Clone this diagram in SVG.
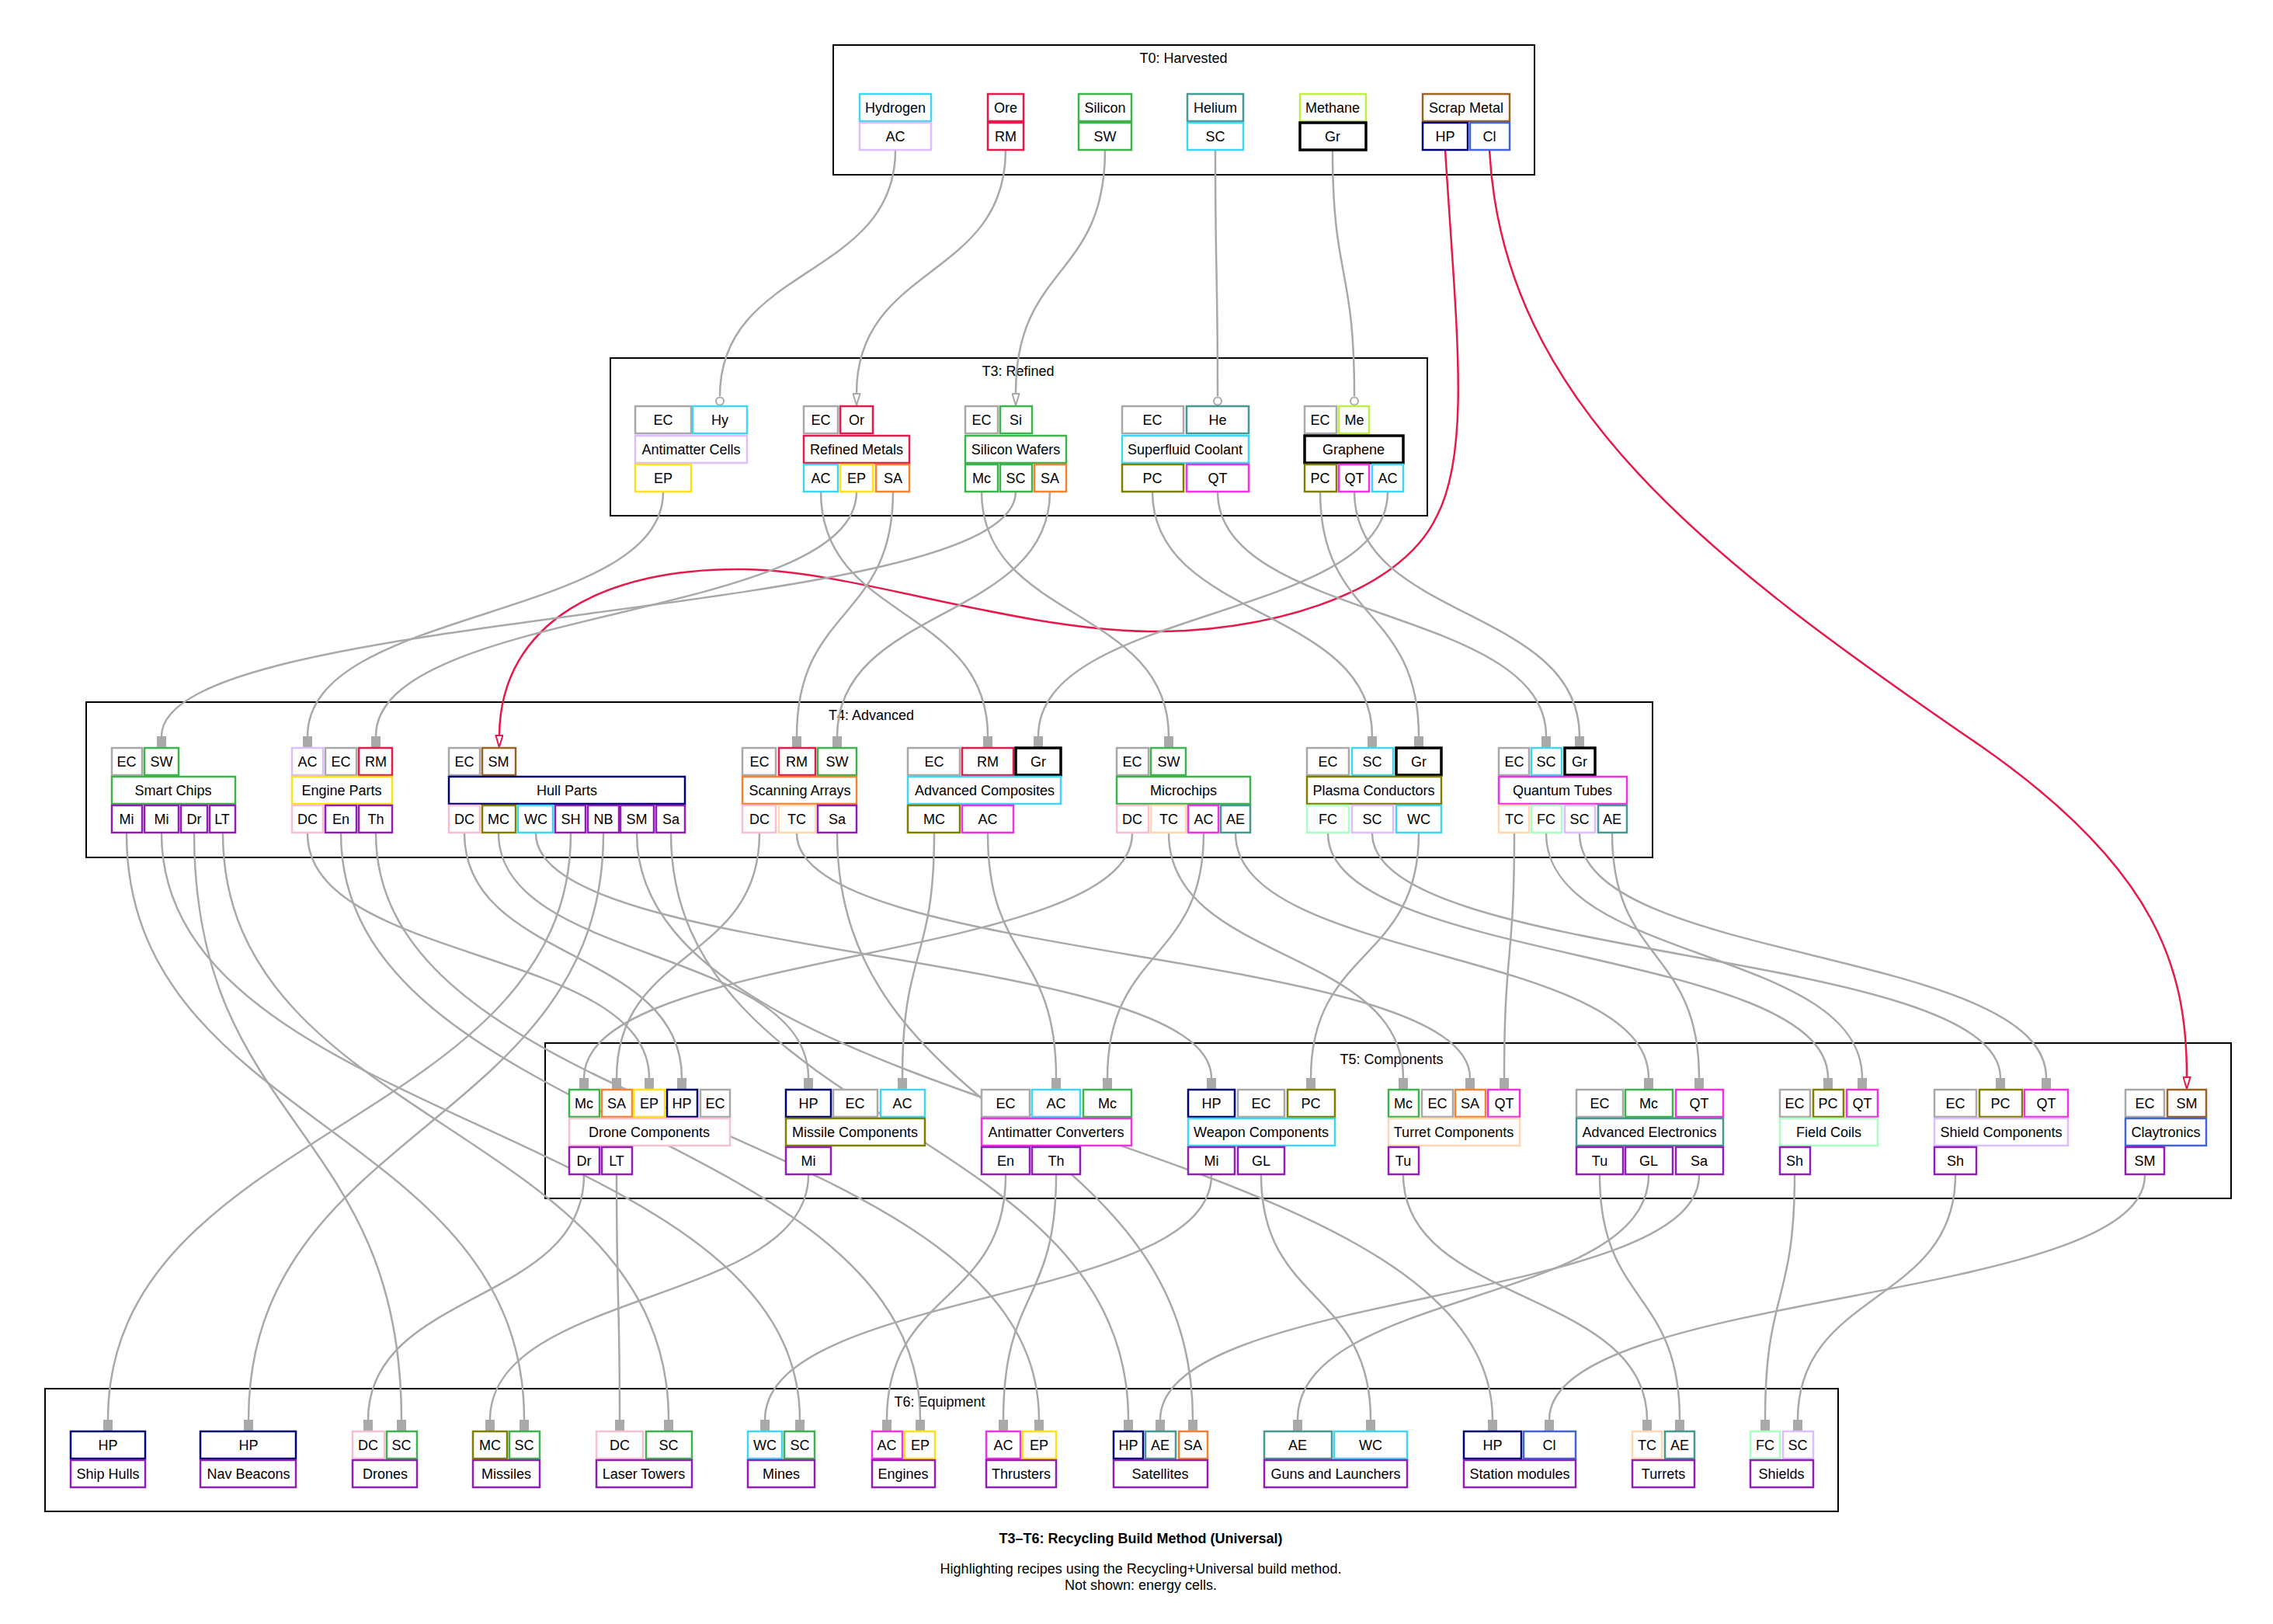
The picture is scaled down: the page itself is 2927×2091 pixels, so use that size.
<svg xmlns="http://www.w3.org/2000/svg" width="2927" height="2091" viewBox="0 0 2927 2091">
<style>
text{font-family:"Liberation Sans",Arial,sans-serif;font-size:18px;text-anchor:middle;fill:#000}
.cl{fill:none;stroke:#000;stroke-width:2}
.n rect{fill:#fff;stroke-width:2.5}
.e{fill:none;stroke:#a9a9a9;stroke-width:2.5}
.r{fill:none;stroke:#e6194b;stroke-width:2.5}
.gy{stroke:#a9a9a9}.cy{stroke:#42d4f4}.lv{stroke:#dcbeff}.rd{stroke:#e6194b}.gn{stroke:#3cb44b}.tl{stroke:#469990}.lm{stroke:#bfef45}.n rect.bk{stroke:#000;stroke-width:3.5}.br{stroke:#9a6324}.nv{stroke:#000075}.bl{stroke:#4363d8}.yl{stroke:#ffe119}.or{stroke:#f58231}.ol{stroke:#808000}.mg{stroke:#f032e6}.pk{stroke:#fabed4}.ap{stroke:#ffd8b1}.mt{stroke:#aaffc3}.pu{stroke:#911eb4}
</style>
<defs>
<marker id="bx" viewBox="0 0 14 12" refX="0" refY="6" markerWidth="14" markerHeight="12" markerUnits="userSpaceOnUse" orient="auto"><rect x="0" y="0" width="14" height="12" fill="#a9a9a9"/></marker>
<marker id="tri" viewBox="0 0 17 11" refX="0" refY="5.5" markerWidth="17" markerHeight="11" markerUnits="userSpaceOnUse" orient="auto"><path d="M1,1 L16,5.5 L1,10 Z" fill="#fff" stroke="#a9a9a9" stroke-width="2"/></marker>
<marker id="rtri" viewBox="0 0 17 11" refX="0" refY="5.5" markerWidth="17" markerHeight="11" markerUnits="userSpaceOnUse" orient="auto"><path d="M1,1 L16,5.5 L1,10 Z" fill="#fff" stroke="#e6194b" stroke-width="2"/></marker>
<marker id="dot" viewBox="0 0 13 12" refX="0" refY="6" markerWidth="13" markerHeight="12" markerUnits="userSpaceOnUse" orient="auto"><circle cx="6.5" cy="6" r="5" fill="#fff" stroke="#a9a9a9" stroke-width="2"/></marker>
</defs>
<rect width="2927" height="2091" fill="#fff"/>
<g id="clusters">
<rect class="cl" x="1073" y="58" width="903" height="167"/><text x="1524" y="81">T0: Harvested</text>
<rect class="cl" x="786" y="461" width="1052" height="203"/><text x="1311" y="484">T3: Refined</text>
<rect class="cl" x="111" y="904" width="2017" height="200"/><text x="1122" y="927">T4: Advanced</text>
<rect class="cl" x="702" y="1343" width="2171" height="200"/><text x="1792" y="1370">T5: Components</text>
<rect class="cl" x="58" y="1788" width="2309" height="158"/><text x="1210" y="1811">T6: Equipment</text>
</g>
<g id="edges">
<path class="e" marker-end="url(#dot)" d="M1153,193 C1153,360 927,340 927,510"/>
<path class="e" marker-end="url(#tri)" d="M1295,193 C1295,360 1103,340 1103,506"/>
<path class="e" marker-end="url(#tri)" d="M1423,193 C1423,360 1308,340 1308,506"/>
<path class="e" marker-end="url(#dot)" d="M1565,193 C1565,360 1568,340 1568,510"/>
<path class="e" marker-end="url(#dot)" d="M1716,193 C1716,360 1744,340 1744,510"/>
<path class="r" marker-end="url(#rtri)" d="M1861,193 C1875,420 1895,580 1850,665 C1800,770 1620,815 1480,813 C1300,810 1100,735 960,733 C780,730 645,800 643,946"/>
<path class="r" marker-end="url(#rtri)" d="M1918,193 C1935,520 2200,720 2550,960 C2780,1120 2816,1250 2816,1386"/>
<path class="e" marker-end="url(#bx)" d="M854,633 C854,800 396,780 396,948"/>
<path class="e" marker-end="url(#bx)" d="M1057,633 C1057,800 1272,780 1272,948"/>
<path class="e" marker-end="url(#bx)" d="M1103,633 C1103,800 484,780 484,948"/>
<path class="e" marker-end="url(#bx)" d="M1150,633 C1150,800 1026,780 1026,948"/>
<path class="e" marker-end="url(#bx)" d="M1264,633 C1264,800 1505,780 1505,948"/>
<path class="e" marker-end="url(#bx)" d="M1308,633 C1308,800 208,780 208,948"/>
<path class="e" marker-end="url(#bx)" d="M1352,633 C1352,800 1078,780 1078,948"/>
<path class="e" marker-end="url(#bx)" d="M1484,633 C1484,800 1767,780 1767,948"/>
<path class="e" marker-end="url(#bx)" d="M1568,633 C1568,800 1991,780 1991,948"/>
<path class="e" marker-end="url(#bx)" d="M1700,633 C1700,800 1827,780 1827,948"/>
<path class="e" marker-end="url(#bx)" d="M1744,633 C1744,800 2034,780 2034,948"/>
<path class="e" marker-end="url(#bx)" d="M1787,633 C1787,800 1337,780 1337,948"/>
<path class="e" marker-end="url(#bx)" d="M396,1073 C396,1240 836,1220 836,1388"/>
<path class="e" marker-end="url(#bx)" d="M598,1073 C598,1240 878,1220 878,1388"/>
<path class="e" marker-end="url(#bx)" d="M642,1073 C642,1240 1041,1220 1041,1388"/>
<path class="e" marker-end="url(#bx)" d="M690,1073 C690,1240 1560,1220 1560,1388"/>
<path class="e" marker-end="url(#bx)" d="M978,1073 C978,1240 794,1220 794,1388"/>
<path class="e" marker-end="url(#bx)" d="M1026,1073 C1026,1240 1893,1220 1893,1388"/>
<path class="e" marker-end="url(#bx)" d="M1203,1073 C1203,1240 1162,1220 1162,1388"/>
<path class="e" marker-end="url(#bx)" d="M1272,1073 C1272,1240 1360,1220 1360,1388"/>
<path class="e" marker-end="url(#bx)" d="M1458,1073 C1458,1240 752,1220 752,1388"/>
<path class="e" marker-end="url(#bx)" d="M1505,1073 C1505,1240 1807,1220 1807,1388"/>
<path class="e" marker-end="url(#bx)" d="M1550,1073 C1550,1240 1426,1220 1426,1388"/>
<path class="e" marker-end="url(#bx)" d="M1591,1073 C1591,1240 2123,1220 2123,1388"/>
<path class="e" marker-end="url(#bx)" d="M1710,1073 C1710,1240 2354,1220 2354,1388"/>
<path class="e" marker-end="url(#bx)" d="M1767,1073 C1767,1240 2576,1220 2576,1388"/>
<path class="e" marker-end="url(#bx)" d="M1827,1073 C1827,1240 1688,1220 1688,1388"/>
<path class="e" marker-end="url(#bx)" d="M1950,1073 C1950,1240 1937,1220 1937,1388"/>
<path class="e" marker-end="url(#bx)" d="M1991,1073 C1991,1240 2398,1220 2398,1388"/>
<path class="e" marker-end="url(#bx)" d="M2034,1073 C2034,1240 2635,1220 2635,1388"/>
<path class="e" marker-end="url(#bx)" d="M2076,1073 C2076,1240 2188,1220 2188,1388"/>
<path class="e" marker-end="url(#bx)" d="M163,1073 C163,1450 675,1450 675,1828"/>
<path class="e" marker-end="url(#bx)" d="M208,1073 C208,1450 1030,1450 1030,1828"/>
<path class="e" marker-end="url(#bx)" d="M250,1073 C250,1450 517,1450 517,1828"/>
<path class="e" marker-end="url(#bx)" d="M287,1073 C287,1450 861,1450 861,1828"/>
<path class="e" marker-end="url(#bx)" d="M439,1073 C439,1450 1185,1450 1185,1828"/>
<path class="e" marker-end="url(#bx)" d="M484,1073 C484,1450 1338,1450 1338,1828"/>
<path class="e" marker-end="url(#bx)" d="M735,1073 C735,1450 139,1450 139,1828"/>
<path class="e" marker-end="url(#bx)" d="M777,1073 C777,1450 320,1450 320,1828"/>
<path class="e" marker-end="url(#bx)" d="M820,1073 C820,1450 1922,1450 1922,1828"/>
<path class="e" marker-end="url(#bx)" d="M864,1073 C864,1450 1453,1450 1453,1828"/>
<path class="e" marker-end="url(#bx)" d="M1078,1073 C1078,1450 1536,1450 1536,1828"/>
<path class="e" marker-end="url(#bx)" d="M752,1513 C752,1680 474,1660 474,1828"/>
<path class="e" marker-end="url(#bx)" d="M794,1513 C794,1680 798,1660 798,1828"/>
<path class="e" marker-end="url(#bx)" d="M1041,1513 C1041,1680 631,1660 631,1828"/>
<path class="e" marker-end="url(#bx)" d="M1295,1513 C1295,1680 1142,1660 1142,1828"/>
<path class="e" marker-end="url(#bx)" d="M1360,1513 C1360,1680 1292,1660 1292,1828"/>
<path class="e" marker-end="url(#bx)" d="M1560,1513 C1560,1680 985,1660 985,1828"/>
<path class="e" marker-end="url(#bx)" d="M1624,1513 C1624,1680 1765,1660 1765,1828"/>
<path class="e" marker-end="url(#bx)" d="M1807,1513 C1807,1680 2121,1660 2121,1828"/>
<path class="e" marker-end="url(#bx)" d="M2060,1513 C2060,1680 2163,1660 2163,1828"/>
<path class="e" marker-end="url(#bx)" d="M2123,1513 C2123,1680 1671,1660 1671,1828"/>
<path class="e" marker-end="url(#bx)" d="M2188,1513 C2188,1680 1494,1660 1494,1828"/>
<path class="e" marker-end="url(#bx)" d="M2311,1513 C2311,1680 2273,1660 2273,1828"/>
<path class="e" marker-end="url(#bx)" d="M2518,1513 C2518,1680 2315,1660 2315,1828"/>
<path class="e" marker-end="url(#bx)" d="M2762,1513 C2762,1680 1995,1660 1995,1828"/>
</g>
<g id="hydrogen" class="n"><rect class="cy" x="1107" y="121" width="92" height="35"/><text x="1153" y="145">Hydrogen</text><rect class="lv" x="1107" y="158" width="92" height="35"/><text x="1153" y="182">AC</text></g>
<g id="ore" class="n"><rect class="rd" x="1272" y="121" width="46" height="35"/><text x="1295" y="145">Ore</text><rect class="rd" x="1272" y="158" width="46" height="35"/><text x="1295" y="182">RM</text></g>
<g id="silicon" class="n"><rect class="gn" x="1389" y="121" width="68" height="35"/><text x="1423" y="145">Silicon</text><rect class="gn" x="1389" y="158" width="68" height="35"/><text x="1423" y="182">SW</text></g>
<g id="helium" class="n"><rect class="tl" x="1529" y="121" width="72" height="35"/><text x="1565" y="145">Helium</text><rect class="cy" x="1529" y="158" width="72" height="35"/><text x="1565" y="182">SC</text></g>
<g id="methane" class="n"><rect class="lm" x="1674" y="121" width="85" height="35"/><text x="1716" y="145">Methane</text><rect class="bk" x="1674" y="158" width="85" height="35"/><text x="1716" y="182">Gr</text></g>
<g id="scrap-metal" class="n"><rect class="br" x="1832" y="121" width="112" height="35"/><text x="1888" y="145">Scrap Metal</text><rect class="nv" x="1832" y="158" width="58" height="35"/><text x="1861" y="182">HP</text><rect class="bl" x="1893" y="158" width="51" height="35"/><text x="1918" y="182">Cl</text></g>
<g id="antimatter-cells" class="n"><rect class="gy" x="818" y="523" width="72" height="35"/><text x="854" y="547">EC</text><rect class="cy" x="892" y="523" width="70" height="35"/><text x="927" y="547">Hy</text><rect class="lv" x="818" y="561" width="144" height="35"/><text x="890" y="585">Antimatter Cells</text><rect class="yl" x="818" y="598" width="72" height="35"/><text x="854" y="622">EP</text></g>
<g id="refined-metals" class="n"><rect class="gy" x="1035" y="523" width="44" height="35"/><text x="1057" y="547">EC</text><rect class="rd" x="1082" y="523" width="42" height="35"/><text x="1103" y="547">Or</text><rect class="rd" x="1035" y="561" width="136" height="35"/><text x="1103" y="585">Refined Metals</text><rect class="cy" x="1035" y="598" width="44" height="35"/><text x="1057" y="622">AC</text><rect class="yl" x="1082" y="598" width="42" height="35"/><text x="1103" y="622">EP</text><rect class="or" x="1128" y="598" width="43" height="35"/><text x="1150" y="622">SA</text></g>
<g id="silicon-wafers" class="n"><rect class="gy" x="1243" y="523" width="42" height="35"/><text x="1264" y="547">EC</text><rect class="gn" x="1288" y="523" width="41" height="35"/><text x="1308" y="547">Si</text><rect class="gn" x="1243" y="561" width="130" height="35"/><text x="1308" y="585">Silicon Wafers</text><rect class="gn" x="1243" y="598" width="42" height="35"/><text x="1264" y="622">Mc</text><rect class="gn" x="1288" y="598" width="41" height="35"/><text x="1308" y="622">SC</text><rect class="or" x="1332" y="598" width="41" height="35"/><text x="1352" y="622">SA</text></g>
<g id="superfluid-coolant" class="n"><rect class="gy" x="1445" y="523" width="79" height="35"/><text x="1484" y="547">EC</text><rect class="tl" x="1528" y="523" width="80" height="35"/><text x="1568" y="547">He</text><rect class="cy" x="1445" y="561" width="163" height="35"/><text x="1526" y="585">Superfluid Coolant</text><rect class="ol" x="1445" y="598" width="79" height="35"/><text x="1484" y="622">PC</text><rect class="mg" x="1528" y="598" width="80" height="35"/><text x="1568" y="622">QT</text></g>
<g id="graphene" class="n"><rect class="gy" x="1680" y="523" width="41" height="35"/><text x="1700" y="547">EC</text><rect class="lm" x="1724" y="523" width="39" height="35"/><text x="1744" y="547">Me</text><rect class="bk" x="1680" y="561" width="127" height="35"/><text x="1743" y="585">Graphene</text><rect class="ol" x="1680" y="598" width="41" height="35"/><text x="1700" y="622">PC</text><rect class="mg" x="1724" y="598" width="39" height="35"/><text x="1744" y="622">QT</text><rect class="cy" x="1767" y="598" width="40" height="35"/><text x="1787" y="622">AC</text></g>
<g id="smart-chips" class="n"><rect class="gy" x="144" y="963" width="39" height="35"/><text x="163" y="987">EC</text><rect class="gn" x="186" y="963" width="44" height="35"/><text x="208" y="987">SW</text><rect class="gn" x="144" y="1000" width="159" height="35"/><text x="223" y="1024">Smart Chips</text><rect class="pu" x="144" y="1037" width="39" height="35"/><text x="163" y="1061">Mi</text><rect class="pu" x="186" y="1037" width="44" height="35"/><text x="208" y="1061">Mi</text><rect class="pu" x="233" y="1037" width="34" height="35"/><text x="250" y="1061">Dr</text><rect class="pu" x="270" y="1037" width="33" height="35"/><text x="286" y="1061">LT</text></g>
<g id="engine-parts" class="n"><rect class="lv" x="376" y="963" width="40" height="35"/><text x="396" y="987">AC</text><rect class="gy" x="419" y="963" width="40" height="35"/><text x="439" y="987">EC</text><rect class="rd" x="462" y="963" width="43" height="35"/><text x="484" y="987">RM</text><rect class="yl" x="376" y="1000" width="129" height="35"/><text x="440" y="1024">Engine Parts</text><rect class="pk" x="376" y="1037" width="40" height="35"/><text x="396" y="1061">DC</text><rect class="pu" x="419" y="1037" width="40" height="35"/><text x="439" y="1061">En</text><rect class="pu" x="462" y="1037" width="43" height="35"/><text x="484" y="1061">Th</text></g>
<g id="hull-parts" class="n"><rect class="gy" x="578" y="963" width="40" height="35"/><text x="598" y="987">EC</text><rect class="br" x="621" y="963" width="43" height="35"/><text x="642" y="987">SM</text><rect class="nv" x="578" y="1000" width="304" height="35"/><text x="730" y="1024">Hull Parts</text><rect class="pk" x="578" y="1037" width="40" height="35"/><text x="598" y="1061">DC</text><rect class="ol" x="621" y="1037" width="43" height="35"/><text x="642" y="1061">MC</text><rect class="cy" x="667" y="1037" width="45" height="35"/><text x="690" y="1061">WC</text><rect class="pu" x="715" y="1037" width="39" height="35"/><text x="735" y="1061">SH</text><rect class="pu" x="757" y="1037" width="40" height="35"/><text x="777" y="1061">NB</text><rect class="pu" x="799" y="1037" width="43" height="35"/><text x="820" y="1061">SM</text><rect class="pu" x="845" y="1037" width="37" height="35"/><text x="864" y="1061">Sa</text></g>
<g id="scanning-arrays" class="n"><rect class="gy" x="956" y="963" width="43" height="35"/><text x="978" y="987">EC</text><rect class="rd" x="1003" y="963" width="47" height="35"/><text x="1026" y="987">RM</text><rect class="gn" x="1053" y="963" width="50" height="35"/><text x="1078" y="987">SW</text><rect class="or" x="956" y="1000" width="147" height="35"/><text x="1030" y="1024">Scanning Arrays</text><rect class="pk" x="956" y="1037" width="43" height="35"/><text x="978" y="1061">DC</text><rect class="ap" x="1003" y="1037" width="47" height="35"/><text x="1026" y="1061">TC</text><rect class="pu" x="1053" y="1037" width="50" height="35"/><text x="1078" y="1061">Sa</text></g>
<g id="advanced-composites" class="n"><rect class="gy" x="1169" y="963" width="67" height="35"/><text x="1203" y="987">EC</text><rect class="rd" x="1239" y="963" width="66" height="35"/><text x="1272" y="987">RM</text><rect class="bk" x="1308" y="963" width="58" height="35"/><text x="1337" y="987">Gr</text><rect class="cy" x="1169" y="1000" width="197" height="35"/><text x="1268" y="1024">Advanced Composites</text><rect class="ol" x="1169" y="1037" width="67" height="35"/><text x="1203" y="1061">MC</text><rect class="mg" x="1239" y="1037" width="66" height="35"/><text x="1272" y="1061">AC</text></g>
<g id="microchips" class="n"><rect class="gy" x="1438" y="963" width="41" height="35"/><text x="1458" y="987">EC</text><rect class="gn" x="1482" y="963" width="45" height="35"/><text x="1505" y="987">SW</text><rect class="gn" x="1438" y="1000" width="172" height="35"/><text x="1524" y="1024">Microchips</text><rect class="pk" x="1438" y="1037" width="41" height="35"/><text x="1458" y="1061">DC</text><rect class="ap" x="1482" y="1037" width="45" height="35"/><text x="1505" y="1061">TC</text><rect class="mg" x="1530" y="1037" width="39" height="35"/><text x="1550" y="1061">AC</text><rect class="tl" x="1572" y="1037" width="38" height="35"/><text x="1591" y="1061">AE</text></g>
<g id="plasma-conductors" class="n"><rect class="gy" x="1683" y="963" width="54" height="35"/><text x="1710" y="987">EC</text><rect class="cy" x="1741" y="963" width="53" height="35"/><text x="1767" y="987">SC</text><rect class="bk" x="1798" y="963" width="58" height="35"/><text x="1827" y="987">Gr</text><rect class="ol" x="1683" y="1000" width="173" height="35"/><text x="1769" y="1024">Plasma Conductors</text><rect class="mt" x="1683" y="1037" width="54" height="35"/><text x="1710" y="1061">FC</text><rect class="lv" x="1741" y="1037" width="53" height="35"/><text x="1767" y="1061">SC</text><rect class="cy" x="1798" y="1037" width="58" height="35"/><text x="1827" y="1061">WC</text></g>
<g id="quantum-tubes" class="n"><rect class="gy" x="1930" y="963" width="39" height="35"/><text x="1950" y="987">EC</text><rect class="cy" x="1972" y="963" width="39" height="35"/><text x="1991" y="987">SC</text><rect class="bk" x="2015" y="963" width="39" height="35"/><text x="2034" y="987">Gr</text><rect class="mg" x="1930" y="1000" width="165" height="35"/><text x="2012" y="1024">Quantum Tubes</text><rect class="ap" x="1930" y="1037" width="39" height="35"/><text x="1950" y="1061">TC</text><rect class="mt" x="1972" y="1037" width="39" height="35"/><text x="1991" y="1061">FC</text><rect class="lv" x="2015" y="1037" width="39" height="35"/><text x="2034" y="1061">SC</text><rect class="tl" x="2058" y="1037" width="37" height="35"/><text x="2076" y="1061">AE</text></g>
<g id="drone-components" class="n"><rect class="gn" x="733" y="1403" width="39" height="35"/><text x="752" y="1427">Mc</text><rect class="or" x="775" y="1403" width="39" height="35"/><text x="794" y="1427">SA</text><rect class="yl" x="816" y="1403" width="40" height="35"/><text x="836" y="1427">EP</text><rect class="nv" x="859" y="1403" width="39" height="35"/><text x="878" y="1427">HP</text><rect class="gy" x="902" y="1403" width="38" height="35"/><text x="921" y="1427">EC</text><rect class="pk" x="733" y="1440" width="207" height="35"/><text x="836" y="1464">Drone Components</text><rect class="pu" x="733" y="1477" width="39" height="35"/><text x="752" y="1501">Dr</text><rect class="pu" x="775" y="1477" width="39" height="35"/><text x="794" y="1501">LT</text></g>
<g id="missile-components" class="n"><rect class="nv" x="1012" y="1403" width="58" height="35"/><text x="1041" y="1427">HP</text><rect class="gy" x="1073" y="1403" width="57" height="35"/><text x="1101" y="1427">EC</text><rect class="cy" x="1134" y="1403" width="57" height="35"/><text x="1162" y="1427">AC</text><rect class="ol" x="1012" y="1440" width="179" height="35"/><text x="1101" y="1464">Missile Components</text><rect class="pu" x="1012" y="1477" width="58" height="35"/><text x="1041" y="1501">Mi</text></g>
<g id="antimatter-converters" class="n"><rect class="gy" x="1264" y="1403" width="62" height="35"/><text x="1295" y="1427">EC</text><rect class="cy" x="1329" y="1403" width="62" height="35"/><text x="1360" y="1427">AC</text><rect class="gn" x="1395" y="1403" width="62" height="35"/><text x="1426" y="1427">Mc</text><rect class="mg" x="1264" y="1440" width="193" height="35"/><text x="1360" y="1464">Antimatter Converters</text><rect class="pu" x="1264" y="1477" width="62" height="35"/><text x="1295" y="1501">En</text><rect class="pu" x="1329" y="1477" width="62" height="35"/><text x="1360" y="1501">Th</text></g>
<g id="weapon-components" class="n"><rect class="nv" x="1530" y="1403" width="60" height="35"/><text x="1560" y="1427">HP</text><rect class="gy" x="1594" y="1403" width="60" height="35"/><text x="1624" y="1427">EC</text><rect class="ol" x="1658" y="1403" width="61" height="35"/><text x="1688" y="1427">PC</text><rect class="cy" x="1530" y="1440" width="189" height="35"/><text x="1624" y="1464">Weapon Components</text><rect class="pu" x="1530" y="1477" width="60" height="35"/><text x="1560" y="1501">Mi</text><rect class="pu" x="1594" y="1477" width="60" height="35"/><text x="1624" y="1501">GL</text></g>
<g id="turret-components" class="n"><rect class="gn" x="1788" y="1403" width="39" height="35"/><text x="1807" y="1427">Mc</text><rect class="gy" x="1831" y="1403" width="40" height="35"/><text x="1851" y="1427">EC</text><rect class="or" x="1874" y="1403" width="39" height="35"/><text x="1893" y="1427">SA</text><rect class="mg" x="1916" y="1403" width="41" height="35"/><text x="1937" y="1427">QT</text><rect class="ap" x="1788" y="1440" width="169" height="35"/><text x="1872" y="1464">Turret Components</text><rect class="pu" x="1788" y="1477" width="39" height="35"/><text x="1807" y="1501">Tu</text></g>
<g id="advanced-electronics" class="n"><rect class="gy" x="2030" y="1403" width="60" height="35"/><text x="2060" y="1427">EC</text><rect class="gn" x="2093" y="1403" width="61" height="35"/><text x="2123" y="1427">Mc</text><rect class="mg" x="2158" y="1403" width="61" height="35"/><text x="2188" y="1427">QT</text><rect class="tl" x="2030" y="1440" width="189" height="35"/><text x="2124" y="1464">Advanced Electronics</text><rect class="pu" x="2030" y="1477" width="60" height="35"/><text x="2060" y="1501">Tu</text><rect class="pu" x="2093" y="1477" width="61" height="35"/><text x="2123" y="1501">GL</text><rect class="pu" x="2158" y="1477" width="61" height="35"/><text x="2188" y="1501">Sa</text></g>
<g id="field-coils" class="n"><rect class="gy" x="2292" y="1403" width="39" height="35"/><text x="2311" y="1427">EC</text><rect class="ol" x="2335" y="1403" width="39" height="35"/><text x="2354" y="1427">PC</text><rect class="mg" x="2378" y="1403" width="40" height="35"/><text x="2398" y="1427">QT</text><rect class="mt" x="2292" y="1440" width="126" height="35"/><text x="2355" y="1464">Field Coils</text><rect class="pu" x="2292" y="1477" width="39" height="35"/><text x="2311" y="1501">Sh</text></g>
<g id="shield-components" class="n"><rect class="gy" x="2491" y="1403" width="54" height="35"/><text x="2518" y="1427">EC</text><rect class="ol" x="2549" y="1403" width="55" height="35"/><text x="2576" y="1427">PC</text><rect class="mg" x="2607" y="1403" width="56" height="35"/><text x="2635" y="1427">QT</text><rect class="lv" x="2491" y="1440" width="172" height="35"/><text x="2577" y="1464">Shield Components</text><rect class="pu" x="2491" y="1477" width="54" height="35"/><text x="2518" y="1501">Sh</text></g>
<g id="claytronics" class="n"><rect class="gy" x="2737" y="1403" width="50" height="35"/><text x="2762" y="1427">EC</text><rect class="br" x="2791" y="1403" width="50" height="35"/><text x="2816" y="1427">SM</text><rect class="bl" x="2737" y="1440" width="104" height="35"/><text x="2789" y="1464">Claytronics</text><rect class="pu" x="2737" y="1477" width="50" height="35"/><text x="2762" y="1501">SM</text></g>
<g id="ship-hulls" class="n"><rect class="nv" x="91" y="1843" width="96" height="35"/><text x="139" y="1867">HP</text><rect class="pu" x="91" y="1880" width="96" height="35"/><text x="139" y="1904">Ship Hulls</text></g>
<g id="nav-beacons" class="n"><rect class="nv" x="258" y="1843" width="123" height="35"/><text x="320" y="1867">HP</text><rect class="pu" x="258" y="1880" width="123" height="35"/><text x="320" y="1904">Nav Beacons</text></g>
<g id="drones" class="n"><rect class="pk" x="454" y="1843" width="41" height="35"/><text x="474" y="1867">DC</text><rect class="gn" x="498" y="1843" width="39" height="35"/><text x="517" y="1867">SC</text><rect class="pu" x="454" y="1880" width="83" height="35"/><text x="496" y="1904">Drones</text></g>
<g id="missiles" class="n"><rect class="ol" x="609" y="1843" width="44" height="35"/><text x="631" y="1867">MC</text><rect class="gn" x="656" y="1843" width="39" height="35"/><text x="675" y="1867">SC</text><rect class="pu" x="609" y="1880" width="86" height="35"/><text x="652" y="1904">Missiles</text></g>
<g id="laser-towers" class="n"><rect class="pk" x="768" y="1843" width="60" height="35"/><text x="798" y="1867">DC</text><rect class="gn" x="832" y="1843" width="59" height="35"/><text x="861" y="1867">SC</text><rect class="pu" x="768" y="1880" width="123" height="35"/><text x="829" y="1904">Laser Towers</text></g>
<g id="mines" class="n"><rect class="cy" x="963" y="1843" width="44" height="35"/><text x="985" y="1867">WC</text><rect class="gn" x="1010" y="1843" width="39" height="35"/><text x="1030" y="1867">SC</text><rect class="pu" x="963" y="1880" width="86" height="35"/><text x="1006" y="1904">Mines</text></g>
<g id="engines" class="n"><rect class="mg" x="1123" y="1843" width="39" height="35"/><text x="1142" y="1867">AC</text><rect class="yl" x="1165" y="1843" width="39" height="35"/><text x="1185" y="1867">EP</text><rect class="pu" x="1123" y="1880" width="81" height="35"/><text x="1163" y="1904">Engines</text></g>
<g id="thrusters" class="n"><rect class="mg" x="1270" y="1843" width="44" height="35"/><text x="1292" y="1867">AC</text><rect class="yl" x="1317" y="1843" width="43" height="35"/><text x="1338" y="1867">EP</text><rect class="pu" x="1270" y="1880" width="90" height="35"/><text x="1315" y="1904">Thrusters</text></g>
<g id="satellites" class="n"><rect class="nv" x="1434" y="1843" width="38" height="35"/><text x="1453" y="1867">HP</text><rect class="tl" x="1475" y="1843" width="39" height="35"/><text x="1494" y="1867">AE</text><rect class="or" x="1518" y="1843" width="37" height="35"/><text x="1536" y="1867">SA</text><rect class="pu" x="1434" y="1880" width="121" height="35"/><text x="1494" y="1904">Satellites</text></g>
<g id="guns-and-launchers" class="n"><rect class="tl" x="1628" y="1843" width="87" height="35"/><text x="1671" y="1867">AE</text><rect class="cy" x="1718" y="1843" width="94" height="35"/><text x="1765" y="1867">WC</text><rect class="pu" x="1628" y="1880" width="184" height="35"/><text x="1720" y="1904">Guns and Launchers</text></g>
<g id="station-modules" class="n"><rect class="nv" x="1885" y="1843" width="74" height="35"/><text x="1922" y="1867">HP</text><rect class="bl" x="1962" y="1843" width="67" height="35"/><text x="1995" y="1867">Cl</text><rect class="pu" x="1885" y="1880" width="144" height="35"/><text x="1957" y="1904">Station modules</text></g>
<g id="turrets" class="n"><rect class="ap" x="2102" y="1843" width="38" height="35"/><text x="2121" y="1867">TC</text><rect class="tl" x="2144" y="1843" width="38" height="35"/><text x="2163" y="1867">AE</text><rect class="pu" x="2102" y="1880" width="80" height="35"/><text x="2142" y="1904">Turrets</text></g>
<g id="shields" class="n"><rect class="mt" x="2254" y="1843" width="38" height="35"/><text x="2273" y="1867">FC</text><rect class="lv" x="2296" y="1843" width="39" height="35"/><text x="2315" y="1867">SC</text><rect class="pu" x="2254" y="1880" width="81" height="35"/><text x="2294" y="1904">Shields</text></g>
<g id="caption">
<text x="1469" y="1987" font-weight="bold">T3–T6: Recycling Build Method (Universal)</text>
<text x="1469" y="2026">Highlighting recipes using the Recycling+Universal build method.</text>
<text x="1469" y="2047">Not shown: energy cells.</text>
</g>
</svg>
